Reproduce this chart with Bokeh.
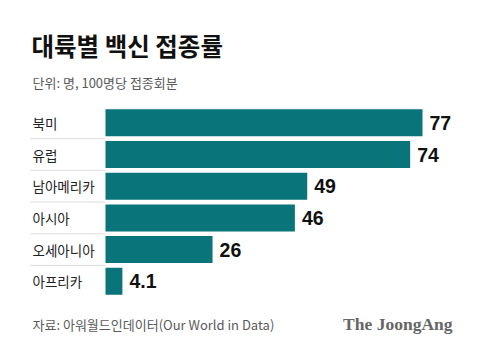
from bokeh.plotting import figure
from bokeh.models import Range1d, ColumnDataSource
from bokeh.core.properties import value
from bokeh.embed import file_html
from bokeh.resources import INLINE

categories = ["북미", "유럽", "남아메리카", "아시아", "오세아니아", "아프리카"]
rates = [77, 74, 49, 46, 26, 4.1]
rate_labels = ["77", "74", "49", "46", "26", "4.1"]

title = "대륙별 백신 접종률"
subtitle = "단위: 명, 100명당 접종회분"
source_note = "자료: 아워월드인데이터(Our World in Data)"
brand = "The JoongAng"

W, H = 480, 352
X0_PX = 105.0          # pixel where value 0 sits
PX_PER_UNIT = 317.0 / 77.0

def px(xpix):
    return (xpix - X0_PX) / PX_PER_UNIT

p = figure(width=W, height=H, output_backend="svg", toolbar_location=None,
           x_range=Range1d(px(0), px(W)), y_range=Range1d(H, 0),
           x_axis_location=None, y_axis_location=None, min_border=0)
p.outline_line_color = None
p.grid.visible = False
p.background_fill_color = "white"
p.border_fill_color = "white"

KR = "Noto Sans CJK KR"
row0, pitch, bar_h = 122.3, 31.7, 27
ys = [row0 + pitch * i for i in range(len(categories))]

src = ColumnDataSource(dict(y=ys, v=rates, cat=categories, lab=rate_labels,
                            lx=[r + px(X0_PX + 7) for r in rates],
                            cx=[px(32)] * len(categories)))

p.hbar(y="y", left=0, right="v", height=bar_h, source=src,
       fill_color="#09757a", line_color=None)

# separators
sep_y = [(ys[i] + ys[i + 1]) / 2 for i in range(len(ys) - 1)]
p.segment(x0=[px(30)] * len(sep_y), x1=[px(X0_PX)] * len(sep_y), y0=sep_y, y1=sep_y,
          line_color="#dddddd", line_width=1)

p.text(x="cx", y="y", text="cat", source=src, text_font=value(KR),
       text_font_size="13.5px", text_color="#222222", text_baseline="middle",
       text_align="left")
p.text(x="lx", y="y", text="lab", source=src, text_font=value("Liberation Sans"),
       text_font_size="19.5px", text_font_style="bold", text_color="#111111",
       text_baseline="middle", text_align="left")

p.text(x=[px(31)], y=[45], text=[title], text_font=value(KR), text_font_size="24.5px",
       text_font_style="bold", text_color="#111111", text_baseline="middle")
p.text(x=[px(32)], y=[82], text=[subtitle], text_font=value(KR), text_font_size="13px",
       text_color="#5a5a5a", text_baseline="middle")
p.text(x=[px(32)], y=[324], text=[source_note], text_font=value(KR), text_font_size="13px",
       text_color="#5a5a5a", text_baseline="middle")
p.text(x=[px(452)], y=[323], text=[brand], text_font=value("Liberation Serif"),
       text_font_size="17.5px", text_font_style="bold", text_color="#666666",
       text_baseline="middle", text_align="right")

open("out.html", "w").write(file_html(p, INLINE))
